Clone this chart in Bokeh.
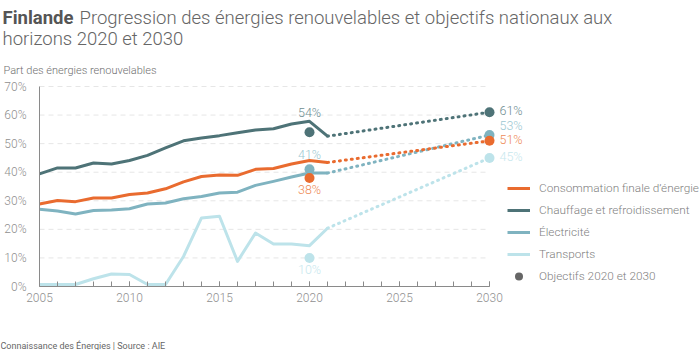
from bokeh.plotting import figure
from bokeh.models import (ColumnDataSource, Label, Legend, LegendItem, Range1d,
                          SingleIntervalTicker, PrintfTickFormatter)
from bokeh.core.properties import value
from bokeh.embed import file_html
from bokeh.resources import INLINE

# ---------------- data ----------------
years = list(range(2005, 2022))
conso = [28.9, 30.1, 29.7, 31.0, 31.0, 32.2, 32.7, 34.2, 36.6, 38.5, 39.0, 38.9, 41.0, 41.3, 42.9, 44.1, 43.4]
chauffage = [39.4, 41.5, 41.5, 43.2, 42.9, 44.1, 45.9, 48.5, 51.0, 52.0, 52.8, 53.8, 54.8, 55.2, 56.9, 57.8, 52.6]
electricite = [27.0, 26.4, 25.4, 26.6, 26.8, 27.2, 28.9, 29.2, 30.7, 31.5, 32.7, 33.0, 35.4, 36.8, 38.3, 39.7, 39.7]
transports = [0.7, 0.7, 0.7, 2.7, 4.4, 4.2, 0.7, 0.7, 10.5, 24.0, 24.6, 8.8, 18.7, 14.9, 14.9, 14.3, 20.4]

target_years = [2020, 2030]
obj_conso = [38, 51]
obj_chauffage = [54, 61]
obj_electricite = [41, 53]
obj_transports = [10, 45]

series_names = ["Consommation finale d\u2019\u00e9nergie", "Chauffage et refroidissement",
                "\u00c9lectricit\u00e9", "Transports"]
target_name = "Objectifs 2020 et 2030"

# ---------------- style / layout ----------------
FONT = "Roboto"
LIGHT = "Roboto Light"
colors = ["#E96B2F", "#4E7377", "#7FB3C0", "#BDE3EA"]
label_colors = ["#EE8A55", "#6E8E92", "#9CC8D2", "#C8E8EE"]
off2020 = [12, -20, -15, 12]
off2030 = [-1, -2, -10, -1]

W, H = 700, 350
X0, X1 = 2005, 2030
Y0, Y1 = 0, 70
px_left, px_right = 39, 489      # canvas x of 2005 and 2030
px_bottom, px_top = 286, 86      # canvas y of 0% and 70%
xs = (px_right - px_left) / (X1 - X0)
ys = (px_bottom - px_top) / (Y1 - Y0)
x_range = Range1d(X0 - px_left / xs, X0 + (W - px_left) / xs)
y_range = Range1d(Y0 - (H - px_bottom) / ys, Y0 + px_bottom / ys)

p = figure(width=W, height=H, output_backend="svg", toolbar_location=None,
           x_range=x_range, y_range=y_range,
           min_border=0, min_border_left=0, min_border_right=0,
           min_border_top=0, min_border_bottom=0)
p.outline_line_color = None
p.background_fill_color = "white"
p.border_fill_color = "white"

# axes (fixed inside the frame, bounded to the data window)
p.xaxis.fixed_location = Y0
p.yaxis.fixed_location = X0
p.xaxis.bounds = (X0, X1)
p.yaxis.bounds = (Y0, Y1)
p.xaxis.ticker = SingleIntervalTicker(interval=5, num_minor_ticks=5)
p.yaxis.ticker = SingleIntervalTicker(interval=10)
p.yaxis.formatter = PrintfTickFormatter(format="%d%%")
for ax in (p.xaxis, p.yaxis):
    ax.axis_line_color = "#8a8a8a"
    ax.axis_line_width = 1
    ax.major_label_text_font = LIGHT
    ax.major_label_text_font_size = "12px"
    ax.major_label_text_color = "#8f8f8f"
p.xaxis.major_tick_in = 5
p.xaxis.major_tick_out = 0
p.xaxis.minor_tick_in = 5
p.xaxis.minor_tick_out = 0
p.xaxis.major_tick_line_color = "#8a8a8a"
p.xaxis.minor_tick_line_color = "#8a8a8a"
p.xaxis.major_label_standoff = 6
p.yaxis.major_tick_line_color = None
p.yaxis.minor_tick_line_color = None
p.yaxis.major_label_standoff = 7
p.xgrid.grid_line_color = None
p.ygrid.grid_line_color = None

# horizontal dashed grid limited to the data window
grid_levels = list(range(Y0 + 10, Y1 + 1, 10))
p.segment(x0=[X0] * len(grid_levels), x1=[X1] * len(grid_levels), y0=grid_levels, y1=grid_levels,
          line_color="#e6e6e6", line_width=1, line_dash="5 4")

all_series = [conso, chauffage, electricite, transports]
all_targets = [obj_conso, obj_chauffage, obj_electricite, obj_transports]

draw_order = [3, 2, 0, 1]
rend = {}
for i in draw_order:
    s = all_series[i]
    src = ColumnDataSource(dict(x=years, y=s))
    r = p.line("x", "y", source=src, line_color=colors[i], line_width=3, line_join="round")
    rend[i] = r
    proj = ColumnDataSource(dict(x=[years[-1], target_years[1]], y=[s[-1], all_targets[i][1]]))
    p.line("x", "y", source=proj, line_color=colors[i], line_width=3,
           line_dash="1 5", line_cap="round")

for i in draw_order:
    t = all_targets[i]
    tsrc = ColumnDataSource(dict(x=target_years, y=t))
    p.scatter("x", "y", source=tsrc, size=10, marker="circle", fill_color=colors[i], line_color=None)

for i in draw_order:
    t = all_targets[i]
    p.text(x=[target_years[0]], y=[t[0]], text=[f"{t[0]}%"], text_font=value(LIGHT),
           text_font_size="12.5px", text_color=label_colors[i], text_align="center",
           text_baseline="middle", y_offset=off2020[i])
    p.text(x=[target_years[1]], y=[t[1]], text=[f"{t[1]}%"], text_font=value(LIGHT),
           text_font_size="12.5px", text_color=label_colors[i], text_align="left",
           text_baseline="middle", x_offset=10, y_offset=off2030[i])

# legend-only renderer for the targets (off-screen NaN point)
dummy = p.scatter(x=[float("nan")], y=[float("nan")], size=10, marker="circle",
                  fill_color="#666666", line_color=None)

items = [LegendItem(label=series_names[i], renderers=[rend[i]]) for i in range(4)]
items.append(LegendItem(label=target_name, renderers=[dummy]))
legend = Legend(items=items, location=(507, H - 286), orientation="vertical",
                label_text_font=LIGHT, label_text_font_size="11.8px", label_text_color="#7f7f7f",
                glyph_width=23, glyph_height=20, label_height=20, label_standoff=9,
                spacing=2, padding=0, margin=0, border_line_color=None,
                background_fill_alpha=0)
p.add_layout(legend, "center")

# texts (screen units: frame == canvas, y measured from bottom)
def lab(text, x, y, size, color, style="normal", font=FONT):
    p.add_layout(Label(x=x, y=H - y, x_units="screen", y_units="screen", text=text,
                       text_font=font, text_font_size=size, text_color=color,
                       text_font_style=style, text_baseline="alphabetic"))

lab("Finlande", 2, 17, "18.5px", "#555555", "bold")
lab("Progression des \u00e9nergies renouvelables et objectifs nationaux aux", 79, 17, "18.5px", "#666666", font=LIGHT)
lab("horizons 2020 et 2030", 2, 38, "18.5px", "#666666", font=LIGHT)
lab("Part des \u00e9nergies renouvelables", 3, 70, "11px", "#707070", font=LIGHT)
lab("Connaissance des \u00c9nergies | Source : AIE", 0, 345, "9px", "#666666")

open("out.html", "w").write(file_html(p, INLINE))
